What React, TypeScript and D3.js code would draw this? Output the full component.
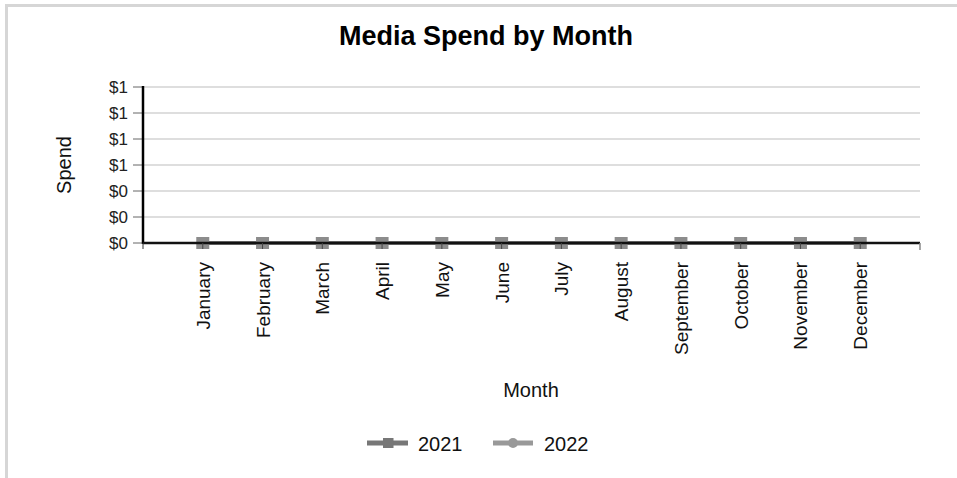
import React from "react";
import * as d3 from "d3";

const months = ["January","February","March","April","May","June","July","August","September","October","November","December"];
const spend2021 = [0,0,0,0,0,0,0,0,0,0,0,0];
const spend2022 = [0,0,0,0,0,0,0,0,0,0,0,0];
const yTicks = [0,0.2,0.4,0.6,0.8,1.0,1.2];
const seriesNames = ["2021","2022"];

const W = 957, H = 478;
const left = 143, right = 920, top = 87, bottom = 243;

export default function App() {
  const x = d3.scalePoint<string>().domain(months).range([left, right]).padding(1);
  const y = d3.scaleLinear().domain([0, 1.2]).range([bottom, top]);
  const fmt = d3.format("$,.0f");
  const line = d3.line<number>().x((_, i) => x(months[i])!).y(d => y(d));
  const font = "'Liberation Sans', Arial, sans-serif";
  return (
    <svg width={W} height={H} style={{ position: "absolute", left: 0, top: 0 }} fontFamily={font}>
      <rect x={0} y={0} width={W} height={H} fill="#fff" />
      <line x1={5} x2={W} y1={5.5} y2={5.5} stroke="#d6d6d6" strokeWidth={3} />
      <line x1={6.5} x2={6.5} y1={4} y2={H} stroke="#d6d6d6" strokeWidth={3} />
      <text x={486} y={45} textAnchor="middle" fontSize={27} fontWeight="bold" fill="#000">Media Spend by Month</text>
      {yTicks.map((t, i) => (
        <g key={i}>
          {i > 0 && <line x1={left} x2={right} y1={y(t)} y2={y(t)} stroke="#dedede" strokeWidth={2} />}
          <line x1={left - 10} x2={left} y1={y(t)} y2={y(t)} stroke="#666" strokeWidth={1} />
          <text x={left - 15} y={y(t)} dy="0.36em" textAnchor="end" fontSize={17} fill="#222">{fmt(t)}</text>
        </g>
      ))}
      <line x1={left} x2={left} y1={top - 1} y2={bottom + 1} stroke="#000" strokeWidth={2.5} />
      <text transform={`translate(71,${(top + bottom) / 2}) rotate(-90)`} textAnchor="middle" fontSize={20} fill="#111">Spend</text>
      {months.map(m => (
        <text key={m} transform={`translate(${x(m)! + 7},${bottom + 19}) rotate(-90)`} textAnchor="end" fontSize={19} fill="#111">{m}</text>
      ))}
      <path d={line(spend2022)!} fill="none" stroke="#999" strokeWidth={4} />
      {spend2022.map((v, i) => <circle key={i} cx={x(months[i])} cy={y(v)} r={5} fill="#999" />)}
      <path d={line(spend2021)!} fill="none" stroke="#777" strokeWidth={4} />
      {spend2021.map((v, i) => <rect key={i} x={x(months[i])! - 6.5} y={y(v) - 6} width={13} height={12} fill="#8c8c8c" />)}
      <line x1={left} x2={right} y1={bottom} y2={bottom} stroke="#111" strokeWidth={2.5} />
      <line x1={left} x2={left} y1={bottom} y2={bottom + 6} stroke="#333" strokeWidth={1} />
      <line x1={right} x2={right} y1={bottom} y2={bottom + 7} stroke="#888" strokeWidth={1.5} />
      {months.map(m => (
        <line key={m} x1={x(m)} x2={x(m)} y1={bottom} y2={bottom + 6} stroke="#444" strokeWidth={1} />
      ))}
      <text x={531} y={397} textAnchor="middle" fontSize={20} fill="#111">Month</text>
      <g>
        <line x1={367} x2={408} y1={443} y2={443} stroke="#777" strokeWidth={5} />
        <rect x={383} y={438} width={10.5} height={10} fill="#777" />
        <text x={418} y={451} fontSize={20} fill="#111">{seriesNames[0]}</text>
        <line x1={493} x2={533} y1={443} y2={443} stroke="#999" strokeWidth={5} />
        <circle cx={513} cy={443} r={5} fill="#999" />
        <text x={544} y={451} fontSize={20} fill="#111">{seriesNames[1]}</text>
      </g>
    </svg>
  );
}
